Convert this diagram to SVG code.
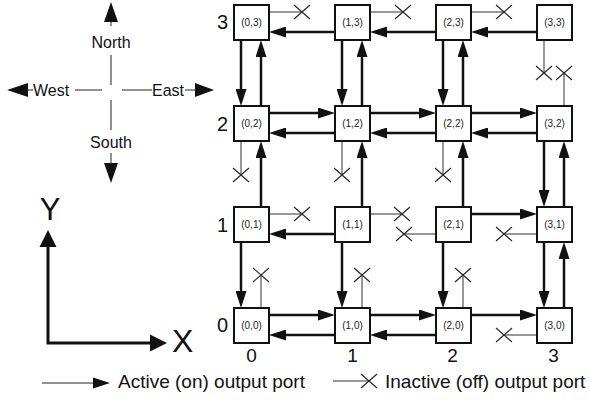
<svg xmlns="http://www.w3.org/2000/svg" width="589" height="400" viewBox="0 0 589 400">
<defs>
<marker id="ah" viewBox="0 0 17 11" markerWidth="17" markerHeight="11" refX="7" refY="5.5" orient="auto" markerUnits="userSpaceOnUse"><path d="M0,0 L17,5.5 L0,11 z" fill="#111"/></marker>
</defs>
<style>
.box{fill:#fff;stroke:#111;stroke-width:2}
.nl{font-family:"Liberation Sans",Arial,sans-serif;font-size:10px;fill:#222;text-anchor:middle}
.on{stroke:#111;stroke-width:2.5;fill:none;marker-end:url(#ah)}
.off{stroke:#333;stroke-width:1;fill:none}
.x{stroke:#222;stroke-width:1.1;fill:none}
.t{font-family:"Liberation Sans",Arial,sans-serif;fill:#111}
.hd{fill:#111;stroke:none}
.thin{stroke:#222;stroke-width:1;fill:none}
</style>
<rect width="589" height="400" fill="#fff"/>

<g id="compass">
<polygon class="hd" points="111,2 118,22 104,22"/>
<line class="thin" x1="111" y1="22" x2="111" y2="26"/>
<line class="thin" x1="111" y1="55" x2="111" y2="85"/>
<line class="thin" x1="111" y1="100" x2="111" y2="130"/>
<line class="thin" x1="111" y1="153" x2="111" y2="163"/>
<polygon class="hd" points="104,163 118,163 111,183"/>
<line class="thin" x1="75" y1="90" x2="102" y2="90"/>
<line class="thin" x1="122" y1="90" x2="152" y2="90"/>
<polygon class="hd" points="7,90 28,83 28,97"/>
<line class="thin" x1="28" y1="90" x2="33" y2="90"/>
<line class="thin" x1="185" y1="90" x2="195" y2="90"/>
<polygon class="hd" points="195,83 214,90 195,97"/>
<text class="t" x="111" y="48" font-size="16" text-anchor="middle">North</text>
<text class="t" x="33" y="96" font-size="16">West</text>
<text class="t" x="152" y="96" font-size="16">East</text>
<text class="t" x="111" y="148" font-size="16" text-anchor="middle">South</text>
</g>

<g id="axes">
<polyline points="48,247 48,343 150,343" fill="none" stroke="#111" stroke-width="3"/>
<polygon class="hd" points="48,230 56.5,247 39.5,247"/>
<polygon class="hd" points="167,343 150,334.5 150,351.5"/>
<text class="t" x="50" y="220" font-size="31" text-anchor="middle">Y</text>
<text class="t" x="172" y="352" font-size="32">X</text>
</g>

<g id="axis-labels" class="t" font-size="20" text-anchor="middle">
<text x="222.5" y="29">3</text>
<text x="222.5" y="131">2</text>
<text x="222.5" y="232">1</text>
<text x="222.5" y="332">0</text>
<text x="251.5" y="362" font-size="19">0</text>
<text x="352.5" y="362" font-size="19">1</text>
<text x="452.5" y="362" font-size="19">2</text>
<text x="553.5" y="362" font-size="19">3</text>
</g>

<g id="connectors">
<!-- active eastward -->
<line class="on" x1="269" y1="113" x2="325" y2="113"/>
<line class="on" x1="370" y1="113" x2="426" y2="113"/>
<line class="on" x1="471" y1="113" x2="527" y2="113"/>
<line class="on" x1="471" y1="214" x2="527" y2="214"/>
<line class="on" x1="269" y1="315" x2="325" y2="315"/>
<line class="on" x1="370" y1="315" x2="426" y2="315"/>
<line class="on" x1="471" y1="315" x2="527" y2="315"/>
<!-- active westward -->
<line class="on" x1="335" y1="32" x2="279" y2="32"/>
<line class="on" x1="436" y1="32" x2="380" y2="32"/>
<line class="on" x1="537" y1="32" x2="481" y2="32"/>
<line class="on" x1="335" y1="133" x2="279" y2="133"/>
<line class="on" x1="436" y1="133" x2="380" y2="133"/>
<line class="on" x1="537" y1="133" x2="481" y2="133"/>
<line class="on" x1="335" y1="234" x2="279" y2="234"/>
<line class="on" x1="335" y1="335" x2="279" y2="335"/>
<line class="on" x1="436" y1="335" x2="380" y2="335"/>
<!-- active southward -->
<line class="on" x1="241" y1="40" x2="241" y2="96"/>
<line class="on" x1="241" y1="242" x2="241" y2="298"/>
<line class="on" x1="342" y1="40" x2="342" y2="96"/>
<line class="on" x1="342" y1="242" x2="342" y2="298"/>
<line class="on" x1="443" y1="40" x2="443" y2="96"/>
<line class="on" x1="443" y1="242" x2="443" y2="298"/>
<line class="on" x1="544" y1="141" x2="544" y2="197"/>
<line class="on" x1="544" y1="242" x2="544" y2="298"/>
<!-- active northward -->
<line class="on" x1="261" y1="106" x2="261" y2="50"/>
<line class="on" x1="261" y1="207" x2="261" y2="151"/>
<line class="on" x1="362" y1="106" x2="362" y2="50"/>
<line class="on" x1="362" y1="207" x2="362" y2="151"/>
<line class="on" x1="463" y1="106" x2="463" y2="50"/>
<line class="on" x1="463" y1="207" x2="463" y2="151"/>
<line class="on" x1="564" y1="207" x2="564" y2="151"/>
<line class="on" x1="564" y1="308" x2="564" y2="252"/>
<!-- inactive ports -->
<line class="off" x1="269" y1="12" x2="302" y2="12"/><path class="x" d="M294,5 L310,19 M310,5 L294,19"/>
<line class="off" x1="370" y1="12" x2="403" y2="12"/><path class="x" d="M395,5 L411,19 M411,5 L395,19"/>
<line class="off" x1="471" y1="12" x2="504" y2="12"/><path class="x" d="M496,5 L512,19 M512,5 L496,19"/>
<line class="off" x1="544" y1="40" x2="544" y2="73"/><path class="x" d="M536,66 L552,80 M552,66 L536,80"/>
<line class="off" x1="564" y1="106" x2="564" y2="73"/><path class="x" d="M556,66 L572,80 M572,66 L556,80"/>
<line class="off" x1="241" y1="141" x2="241" y2="175"/><path class="x" d="M233,168 L249,182 M249,168 L233,182"/>
<line class="off" x1="342" y1="141" x2="342" y2="175"/><path class="x" d="M334,168 L350,182 M350,168 L334,182"/>
<line class="off" x1="443" y1="141" x2="443" y2="175"/><path class="x" d="M435,168 L451,182 M451,168 L435,182"/>
<line class="off" x1="269" y1="214" x2="302" y2="214"/><path class="x" d="M294,207 L310,221 M310,207 L294,221"/>
<line class="off" x1="370" y1="214" x2="402" y2="214"/><path class="x" d="M394,207 L410,221 M410,207 L394,221"/>
<line class="off" x1="436" y1="234" x2="404" y2="234"/><path class="x" d="M396,227 L412,241 M412,227 L396,241"/>
<line class="off" x1="537" y1="234" x2="504" y2="234"/><path class="x" d="M496,227 L512,241 M512,227 L496,241"/>
<line class="off" x1="261" y1="308" x2="261" y2="275"/><path class="x" d="M253,268 L269,282 M269,268 L253,282"/>
<line class="off" x1="362" y1="308" x2="362" y2="275"/><path class="x" d="M354,268 L370,282 M370,268 L354,282"/>
<line class="off" x1="463" y1="308" x2="463" y2="275"/><path class="x" d="M455,268 L471,282 M471,268 L455,282"/>
<line class="off" x1="537" y1="335" x2="504" y2="335"/><path class="x" d="M496,328 L512,342 M512,328 L496,342"/>
</g>

<g id="n03"><rect class="box" x="234" y="5" width="35" height="35"/><text class="nl" x="251.5" y="26">(0,3)</text></g>
<g id="n13"><rect class="box" x="335" y="5" width="35" height="35"/><text class="nl" x="352.5" y="26">(1,3)</text></g>
<g id="n23"><rect class="box" x="436" y="5" width="35" height="35"/><text class="nl" x="453.5" y="26">(2,3)</text></g>
<g id="n33"><rect class="box" x="537" y="5" width="35" height="35"/><text class="nl" x="554.5" y="26">(3,3)</text></g>
<g id="n02"><rect class="box" x="234" y="106" width="35" height="35"/><text class="nl" x="251.5" y="127">(0,2)</text></g>
<g id="n12"><rect class="box" x="335" y="106" width="35" height="35"/><text class="nl" x="352.5" y="127">(1,2)</text></g>
<g id="n22"><rect class="box" x="436" y="106" width="35" height="35"/><text class="nl" x="453.5" y="127">(2,2)</text></g>
<g id="n32"><rect class="box" x="537" y="106" width="35" height="35"/><text class="nl" x="554.5" y="127">(3,2)</text></g>
<g id="n01"><rect class="box" x="234" y="207" width="35" height="35"/><text class="nl" x="251.5" y="228">(0,1)</text></g>
<g id="n11"><rect class="box" x="335" y="207" width="35" height="35"/><text class="nl" x="352.5" y="228">(1,1)</text></g>
<g id="n21"><rect class="box" x="436" y="207" width="35" height="35"/><text class="nl" x="453.5" y="228">(2,1)</text></g>
<g id="n31"><rect class="box" x="537" y="207" width="35" height="35"/><text class="nl" x="554.5" y="228">(3,1)</text></g>
<g id="n00"><rect class="box" x="234" y="308" width="35" height="35"/><text class="nl" x="251.5" y="329">(0,0)</text></g>
<g id="n10"><rect class="box" x="335" y="308" width="35" height="35"/><text class="nl" x="352.5" y="329">(1,0)</text></g>
<g id="n20"><rect class="box" x="436" y="308" width="35" height="35"/><text class="nl" x="453.5" y="329">(2,0)</text></g>
<g id="n30"><rect class="box" x="537" y="308" width="35" height="35"/><text class="nl" x="554.5" y="329">(3,0)</text></g>

<g id="legend">
<line class="thin" x1="42" y1="383" x2="94" y2="383"/>
<polygon class="hd" points="93,377.5 110,383 93,388.5"/>
<text class="t" x="118" y="388" font-size="19">Active (on) output port</text>
<line class="off" x1="333" y1="381" x2="369" y2="381"/>
<path class="x" d="M361,374 L377,388 M377,374 L361,388"/>
<text class="t" x="385" y="388" font-size="19">Inactive (off) output port</text>
</g>
</svg>
